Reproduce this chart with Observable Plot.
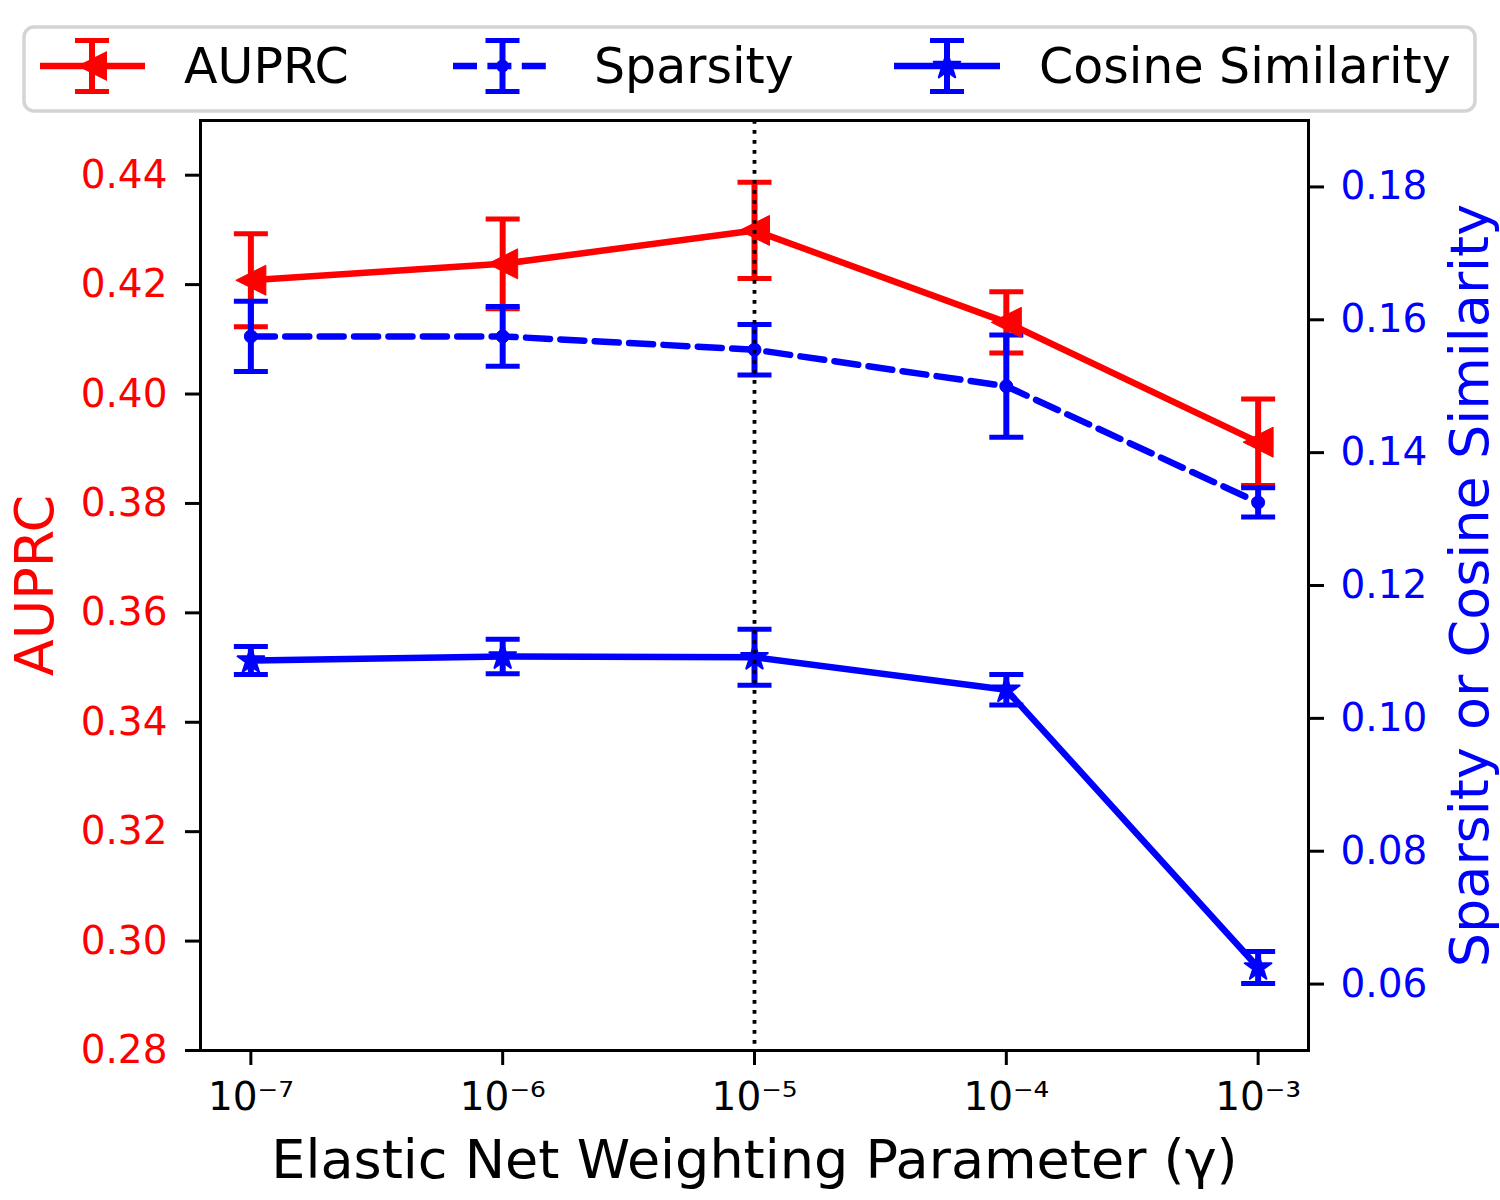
<!DOCTYPE html>
<html><head><meta charset="utf-8">
<script src="https://cdn.jsdelivr.net/npm/d3@7"></script>
<script src="https://cdn.jsdelivr.net/npm/@observablehq/plot@0.6"></script>
<style>
body{margin:0;background:#fff;font-family:"DejaVu Sans",sans-serif;}
#legend svg, #chart svg{display:block;}
</style></head><body>
<div id="legend"></div>
<div id="chart"></div>
<script>
// ---- data ----
const gammas = [1e-7, 1e-6, 1e-5, 1e-4, 1e-3];
const xTickLabels = ["10⁻⁷", "10⁻⁶", "10⁻⁵", "10⁻⁴", "10⁻³"];
const auprcMean = [0.4208, 0.4238, 0.4299, 0.4131, 0.3912];
const auprcErr  = [0.0085, 0.0082, 0.0088, 0.0056, 0.0079];
const sparsityMean = [0.1575, 0.1575, 0.1555, 0.1500, 0.1325];
const sparsityErr  = [0.0053, 0.0045, 0.0038, 0.0077, 0.0022];
const cosineMean = [0.1087, 0.1093, 0.1092, 0.1043, 0.0625];
const cosineErr  = [0.0021, 0.0026, 0.0042, 0.0023, 0.0024];
const leftTicks  = [0.28, 0.30, 0.32, 0.34, 0.36, 0.38, 0.40, 0.42, 0.44];
const rightTicks = [0.06, 0.08, 0.10, 0.12, 0.14, 0.16, 0.18];
const selectedGamma = 1e-5;
const leftDomain = [0.28, 0.45];
const rightDomain = [0.05, 0.19];
const xDomain = [Math.pow(10, -7.2), Math.pow(10, -2.8)];
const seriesNames = ["AUPRC", "Sparsity", "Cosine Similarity"];

const RED = "#ff0000", BLUE = "#0000ff";
const LW = 6.5, EW = 6, CW = 5, CAP = 17, STAR = 14;
const DASH = "24,10.4";
const toLeft = v => leftDomain[0] + (v - rightDomain[0]) * (leftDomain[1] - leftDomain[0]) / (rightDomain[1] - rightDomain[0]);
const fromLeft = v => rightDomain[0] + (v - leftDomain[0]) * (rightDomain[1] - rightDomain[0]) / (leftDomain[1] - leftDomain[0]);

const rowsOf = (mean, err, map) => gammas.map((g, i) => ({
  x: g, y: map(mean[i]), lo: map(mean[i] - err[i]), hi: map(mean[i] + err[i])
}));
const auprcRows = rowsOf(auprcMean, auprcErr, v => v);
const sparsityRows = rowsOf(sparsityMean, sparsityErr, toLeft);
const cosineRows = rowsOf(cosineMean, cosineErr, toLeft);

// ---- symbols ----
const capSymbol = {draw(ctx, size) { const r = Math.sqrt(size / Math.PI); ctx.moveTo(-r, 0); ctx.lineTo(r, 0); }};
const triLeft = {draw(ctx, size) { const r = Math.sqrt(size / Math.PI); ctx.moveTo(-r, 0); ctx.lineTo(r, -r); ctx.lineTo(r, r); ctx.closePath(); }};
const star = {draw(ctx, size) {
  const R = Math.sqrt(size / Math.PI);
  for (let i = 0; i < 10; i++) {
    const a = -Math.PI / 2 + i * Math.PI / 5, rr = i % 2 ? R * 0.381966 : R;
    const px = rr * Math.cos(a), py = rr * Math.sin(a);
    i ? ctx.lineTo(px, py) : ctx.moveTo(px, py);
  }
  ctx.closePath();
}};

const errorbars = (rows, color) => [
  Plot.ruleX(rows, {x: "x", y1: "lo", y2: "hi", stroke: color, strokeWidth: EW}),
  Plot.dot(rows, {x: "x", y: "lo", symbol: capSymbol, r: CAP, stroke: color, strokeWidth: CW, fill: "none"}),
  Plot.dot(rows, {x: "x", y: "hi", symbol: capSymbol, r: CAP, stroke: color, strokeWidth: CW, fill: "none"})
];

const chart = Plot.plot({
  width: 1500, height: 1084,
  marginLeft: 200, marginRight: 192, marginTop: 4, marginBottom: 150,
  style: {fontFamily: "DejaVu Sans", background: "white", overflow: "visible"},
  x: {type: "log", domain: xDomain},
  y: {domain: leftDomain},
  marks: [
    ...errorbars(auprcRows, RED),
    ...errorbars(sparsityRows, BLUE),
    ...errorbars(cosineRows, BLUE),
    Plot.line(auprcRows, {x: "x", y: "y", stroke: RED, strokeWidth: LW}),
    Plot.dot(auprcRows, {x: "x", y: "y", symbol: triLeft, r: 15, fill: RED, stroke: RED, strokeWidth: 1}),
    Plot.line(sparsityRows, {x: "x", y: "y", stroke: BLUE, strokeWidth: LW, strokeDasharray: DASH}),
    Plot.dot(sparsityRows, {x: "x", y: "y", r: 6.5, fill: BLUE, stroke: BLUE, strokeWidth: 1}),
    Plot.line(cosineRows, {x: "x", y: "y", stroke: BLUE, strokeWidth: LW}),
    Plot.dot(cosineRows, {x: "x", y: "y", symbol: star, r: STAR, fill: BLUE, stroke: BLUE, strokeWidth: 2, strokeLinejoin: "round"}),
    Plot.ruleX([selectedGamma], {stroke: "black", strokeWidth: 3.8, strokeDasharray: "3.8,6.2"}),
    Plot.frame({stroke: "black", strokeWidth: 3}),
    // x axis
    Plot.axisX(gammas, {tickSize: 15, strokeWidth: 3, tickPadding: 17, fontSize: 39, color: "black",
      tickFormat: d => xTickLabels[gammas.indexOf(d)], label: null}),
    // left axis: ticks then labels
    Plot.axisY(leftTicks, {anchor: "left", tickSize: 15, strokeWidth: 3, tickFormat: () => "", label: null, color: "black"}),
    Plot.axisY(leftTicks, {anchor: "left", tickSize: 0, tickPadding: 33, fontSize: 39, color: RED,
      tickFormat: d => d.toFixed(2), label: null}),
    // right axis
    Plot.axisY(rightTicks.map(toLeft), {anchor: "right", tickSize: 15, strokeWidth: 3, tickFormat: () => "", label: null, color: "black"}),
    Plot.axisY(rightTicks.map(toLeft), {anchor: "right", tickSize: 0, tickPadding: 32, fontSize: 39, color: BLUE,
      tickFormat: d => fromLeft(d).toFixed(2), label: null}),
    // axis titles
    Plot.text(["Elastic Net Weighting Parameter (γ)"], {frameAnchor: "bottom", dy: 110, lineAnchor: "middle", textAnchor: "middle", fontSize: 54, fill: "black", text: d => d}),
    Plot.text(["AUPRC"], {frameAnchor: "left", dx: -165, rotate: -90, textAnchor: "middle", lineAnchor: "middle", fontSize: 54, fill: RED, text: d => d}),
    Plot.text(["Sparsity or Cosine Similarity"], {frameAnchor: "right", dx: 162, rotate: -90, textAnchor: "middle", lineAnchor: "middle", fontSize: 54, fill: BLUE, text: d => d})
  ]
});
document.getElementById("chart").appendChild(chart);

// ---- legend ----
function starPoints(cx, cy, R) {
  const p = [];
  for (let i = 0; i < 10; i++) {
    const a = -Math.PI / 2 + i * Math.PI / 5, rr = i % 2 ? R * 0.381966 : R;
    p.push((cx + rr * Math.cos(a)).toFixed(2) + "," + (cy + rr * Math.sin(a)).toFixed(2));
  }
  return p.join(" ");
}
function errHandle(cx, cy, color) {
  return `<line x1="${cx}" y1="${cy - 25.5}" x2="${cx}" y2="${cy + 25.5}" stroke="${color}" stroke-width="${EW}"/>
  <line x1="${cx - CAP}" y1="${cy - 25.5}" x2="${cx + CAP}" y2="${cy - 25.5}" stroke="${color}" stroke-width="${CW}"/>
  <line x1="${cx - CAP}" y1="${cy + 25.5}" x2="${cx + CAP}" y2="${cy + 25.5}" stroke="${color}" stroke-width="${CW}"/>`;
}
const cy = 66;
const legendSvg = `<svg width="1500" height="116" xmlns="http://www.w3.org/2000/svg" font-family="DejaVu Sans">
  <rect x="24" y="27" width="1451" height="84" rx="10" ry="10" fill="white" stroke="#d4d4d4" stroke-width="3.5"/>
  ${errHandle(92, cy, RED)}
  <line x1="40" y1="${cy}" x2="145" y2="${cy}" stroke="${RED}" stroke-width="${LW}"/>
  <polygon points="77,${cy} 107,${cy - 15} 107,${cy + 15}" fill="${RED}"/>
  <text x="184" y="83" font-size="49" fill="black">${seriesNames[0]}</text>
  ${errHandle(502.5, cy, BLUE)}
  <line x1="453" y1="${cy}" x2="553" y2="${cy}" stroke="${BLUE}" stroke-width="${LW}" stroke-dasharray="${DASH}"/>
  <circle cx="502.5" cy="${cy}" r="6.5" fill="${BLUE}"/>
  <text x="594" y="83" font-size="49" fill="black">${seriesNames[1]}</text>
  ${errHandle(947, cy, BLUE)}
  <line x1="894" y1="${cy}" x2="1000" y2="${cy}" stroke="${BLUE}" stroke-width="${LW}"/>
  <polygon points="${starPoints(947, cy, STAR)}" fill="${BLUE}" stroke="${BLUE}" stroke-width="2" stroke-linejoin="round"/>
  <text x="1039" y="83" font-size="49" fill="black">${seriesNames[2]}</text>
</svg>`;
document.getElementById("legend").innerHTML = legendSvg;
</script>
</body></html>
